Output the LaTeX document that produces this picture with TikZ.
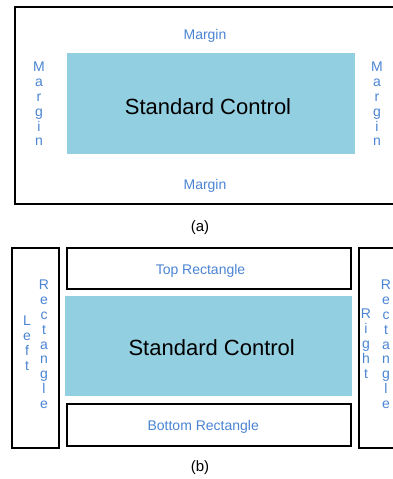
\documentclass[tikz,border=0pt]{standalone}
\usepackage{fontspec}
\setmainfont{Liberation Sans}
\definecolor{lbl}{HTML}{4A84D2}
\definecolor{ctl}{HTML}{92CFE0}
\tikzset{
  frame/.style={draw=black, line width=2pt},
  ctrlbox/.style={fill=ctl, draw=none},
  lbltext/.style={text=lbl, font=\fontsize{14}{14.8}\selectfont, inner sep=0pt},
  vtext/.style={lbltext, align=center, anchor=north},
  ctrltext/.style={font=\fontsize{22}{26}\selectfont, inner sep=0pt, anchor=base},
  captext/.style={font=\fontsize{15}{18}\selectfont, inner sep=0pt, anchor=base},
}
\begin{document}
\begin{tikzpicture}[x=1pt,y=-1pt]
\useasboundingbox (0,0) rectangle (392,479);
% ---------- (a) ----------
\draw[frame] (15,7) rectangle (410,204);
\fill[ctrlbox] (67,53) rectangle (355,154);
\node[ctrltext] (sca) at (208,114.3) {Standard Control};
\node[lbltext, anchor=base] (mt) at (205,39) {Margin};
\node[lbltext, anchor=base] (mb) at (205,189) {Margin};
\node[vtext] (ml) at (39,62) {M\\a\\r\\g\\i\\n};
\node[vtext] (mr) at (377,62) {M\\a\\r\\g\\i\\n};
\node[captext] (capa) at (200,231) {(a)};
% ---------- (b) ----------
\draw[frame] (12,248) rectangle (59,448);
\draw[frame] (67,248) rectangle (351,289);
\fill[ctrlbox] (65,296) rectangle (352,396);
\draw[frame] (67,404) rectangle (351,446);
\draw[frame] (359,248) rectangle (410,448);
\node[ctrltext] (scb) at (211.7,355) {Standard Control};
\node[lbltext, anchor=base] (tr) at (200.5,274.3) {Top Rectangle};
\node[lbltext, anchor=base] (br) at (203.2,430) {Bottom Rectangle};
\node[vtext] (lw) at (27,316) {L\\e\\f\\t};
\node[vtext] (lr) at (44,280) {R\\e\\c\\t\\a\\n\\g\\l\\e};
\node[vtext] (rw) at (366,309) {R\\i\\g\\h\\t};
\node[vtext] (rr) at (386,280) {R\\e\\c\\t\\a\\n\\g\\l\\e};
\node[captext] (capb) at (200,471) {(b)};
\end{tikzpicture}
\end{document}
